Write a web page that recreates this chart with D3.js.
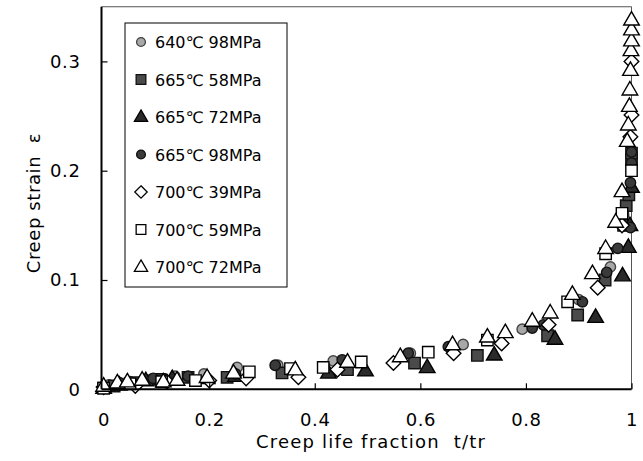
<!DOCTYPE html>
<html><head><meta charset="utf-8">
<script src="https://cdn.jsdelivr.net/npm/d3@7"></script>
<style>
html,body{margin:0;padding:0;background:#fff;}
text{font-family:"DejaVu Sans","Noto Sans CJK JP",sans-serif;fill:#000;white-space:pre;}
</style></head>
<body>
<svg id="c" width="643" height="461"></svg>
<script>
// ---------- data ----------
const seriesNames = ["640℃ 98MPa","665℃ 58MPa","665℃ 72MPa","665℃ 98MPa","700℃ 39MPa","700℃ 59MPa","700℃ 72MPa"];
const xTicks = [0,0.2,0.4,0.6,0.8,1];
const yTicks = [0,0.1,0.2,0.3];

const t640_98 = [0,0.01,0.05,0.09,0.135,0.19,0.253,0.33,0.435,0.581,0.681,0.793,0.90,0.96,0.985,1.0];
const e640_98 = [0.002,0.004,0.007,0.009,0.012,0.014,0.020,0.022,0.026,0.033,0.041,0.055,0.082,0.112,0.16,0.205];

const t665_58 = [0,0.02,0.06,0.107,0.16,0.234,0.338,0.462,0.589,0.708,0.841,0.898,0.95,0.985,0.99,0.995,1.0,1.0];
const e665_58 = [0.001,0.003,0.006,0.009,0.011,0.011,0.015,0.018,0.024,0.031,0.049,0.068,0.10,0.15,0.168,0.178,0.21,0.216];

const t665_72 = [0,0.03,0.08,0.13,0.196,0.25,0.426,0.496,0.613,0.740,0.855,0.932,0.983,0.994,0.997,1.0];
const e665_72 = [0.001,0.004,0.008,0.010,0.010,0.012,0.015,0.017,0.020,0.0315,0.046,0.066,0.104,0.130,0.150,0.185];

const t665_98 = [0,0.03,0.094,0.16,0.25,0.325,0.452,0.577,0.653,0.812,0.833,0.907,0.953,0.974,0.998,0.998,1.0,1.0];
const e665_98 = [0.002,0.006,0.010,0.012,0.014,0.022,0.027,0.033,0.039,0.056,0.059,0.080,0.107,0.129,0.148,0.189,0.207,0.217];

const t700_39 = [0,0.06,0.12,0.2,0.27,0.369,0.443,0.549,0.663,0.754,0.843,0.936,0.982,0.998,1.0,1.0];
const e700_39 = [0.002,0.003,0.007,0.008,0.010,0.011,0.018,0.024,0.033,0.042,0.059,0.093,0.150,0.231,0.251,0.300];

const t700_59 = [0,0.05,0.11,0.174,0.276,0.354,0.416,0.488,0.615,0.727,0.879,0.951,0.982,1.0];
const e700_59 = [0.001,0.005,0.007,0.008,0.016,0.019,0.020,0.025,0.034,0.045,0.080,0.124,0.161,0.200];

const t700_72 = [0,0.026,0.045,0.073,0.113,0.139,0.196,0.246,0.363,0.462,0.562,0.661,0.727,0.761,0.812,0.846,0.888,0.926,0.951,0.970,0.982,0.992,0.994,0.996,0.997,0.998,0.999,1.0,1.0,1.0];
const e700_72 = [0.003,0.006,0.007,0.0085,0.007,0.0085,0.011,0.015,0.018,0.025,0.030,0.041,0.048,0.052,0.0625,0.070,0.087,0.106,0.129,0.153,0.181,0.227,0.242,0.259,0.274,0.292,0.310,0.319,0.329,0.338];

const seriesT = [t640_98,t665_58,t665_72,t665_98,t700_39,t700_59,t700_72];
const seriesE = [e640_98,e665_58,e665_72,e665_98,e700_39,e700_59,e700_72];

// ---------- styles ----------
const shapes = ["circle","square","triangle","circle","diamond","square","triangle"];
const fills  = ["#a8a8a8","#4a4a4a","#2a2a2a","#3a3a3a","#fff","#fff","#fff"];
const strokes= ["#444","#111","#000","#111","#000","#000","#000"];

function shapePath(s, k){
  k = k||1;
  if(s==="circle"){const r=5.2*k;return `M${-r},0A${r},${r} 0 1,0 ${r},0A${r},${r} 0 1,0 ${-r},0Z`;}
  if(s==="square"){const h=5.7*k;return `M${-h},${-h}H${h}V${h}H${-h}Z`;}
  if(s==="triangle"){const w=7.8*k,tp=8.3*k,b=5.2*k;return `M0,${-tp}L${w},${b}L${-w},${b}Z`;}
  if(s==="diamond"){const h=7.3*k;return `M0,${-h}L${h},0L0,${h}L${-h},0Z`;}
}

// ---------- chart ----------
const svg = d3.select("#c");
const L=101.5,R=631.5,T=6.75,B=389.3;
const x = d3.scaleLinear().domain([-0.004,1]).range([L,R]);
const y = d3.scaleLinear().domain([0,0.35]).range([B,T]);

svg.append("path").attr("d",`M${L},${T}H${R}V${B}`).attr("fill","none").attr("stroke","#555").attr("stroke-width",1);

seriesT.forEach((ts,i)=>{
  const g = svg.append("g");
  ts.forEach((tv,j)=>{
    g.append("path").attr("d",shapePath(shapes[i]))
      .attr("transform",`translate(${x(tv)},${y(seriesE[i][j])})`)
      .attr("fill",fills[i]).attr("stroke",strokes[i]).attr("stroke-width",1.4);
  });
});

const xAxis = d3.axisBottom(x).tickValues(xTicks).tickSize(-6).tickPadding(24).tickFormat(d3.format("~g"));
const gx = svg.append("g").attr("transform",`translate(0,${B})`).call(xAxis);
const yAxis = d3.axisLeft(y).tickValues(yTicks).tickSize(-6).tickPadding(21).tickFormat(d3.format("~g"));
const gy = svg.append("g").attr("transform",`translate(${L},0)`).call(yAxis);
[gx,gy].forEach(g=>{
  g.select(".domain").attr("stroke","#000").attr("stroke-width",2);
  g.selectAll(".tick line").attr("stroke","#000").attr("stroke-width",1.2);
  g.selectAll(".tick text").style("font-size","18px").style("letter-spacing","0.6px")
    .style("font-family","\"DejaVu Sans\",sans-serif").attr("fill","#000");
});
gx.selectAll(".tick").filter(d=>d===0).select("line").remove();
gy.selectAll(".tick").filter(d=>d===0).select("line").remove();
gy.select(".domain").attr("d",`M0,${T}V${B}`);
gx.select(".domain").attr("d",`M${L},0H${R}`);

svg.append("text").attr("x",371).attr("y",448).attr("text-anchor","middle")
  .style("font-size","18px").style("letter-spacing","1.2px").text("Creep life fraction  t/tr");
svg.append("text").attr("transform","translate(40,203) rotate(-90)").attr("text-anchor","middle")
  .style("font-size","18px").style("letter-spacing","0.6px").text("Creep strain  ε");

const lg = svg.append("g");
lg.append("rect").attr("x",125).attr("y",23).attr("width",162).attr("height",264)
  .attr("fill","#fff").attr("stroke","#000").attr("stroke-width",1);
seriesNames.forEach((n,i)=>{
  const cy = 42 + i*37.5;
  lg.append("path").attr("d",shapePath(shapes[i],0.85)).attr("transform",`translate(141,${cy})`)
    .attr("fill",fills[i]).attr("stroke",strokes[i]).attr("stroke-width",1.3);
  lg.append("text").attr("x",155).attr("y",cy+6).style("font-size","16px").text(n);
});
</script>
</body></html>
